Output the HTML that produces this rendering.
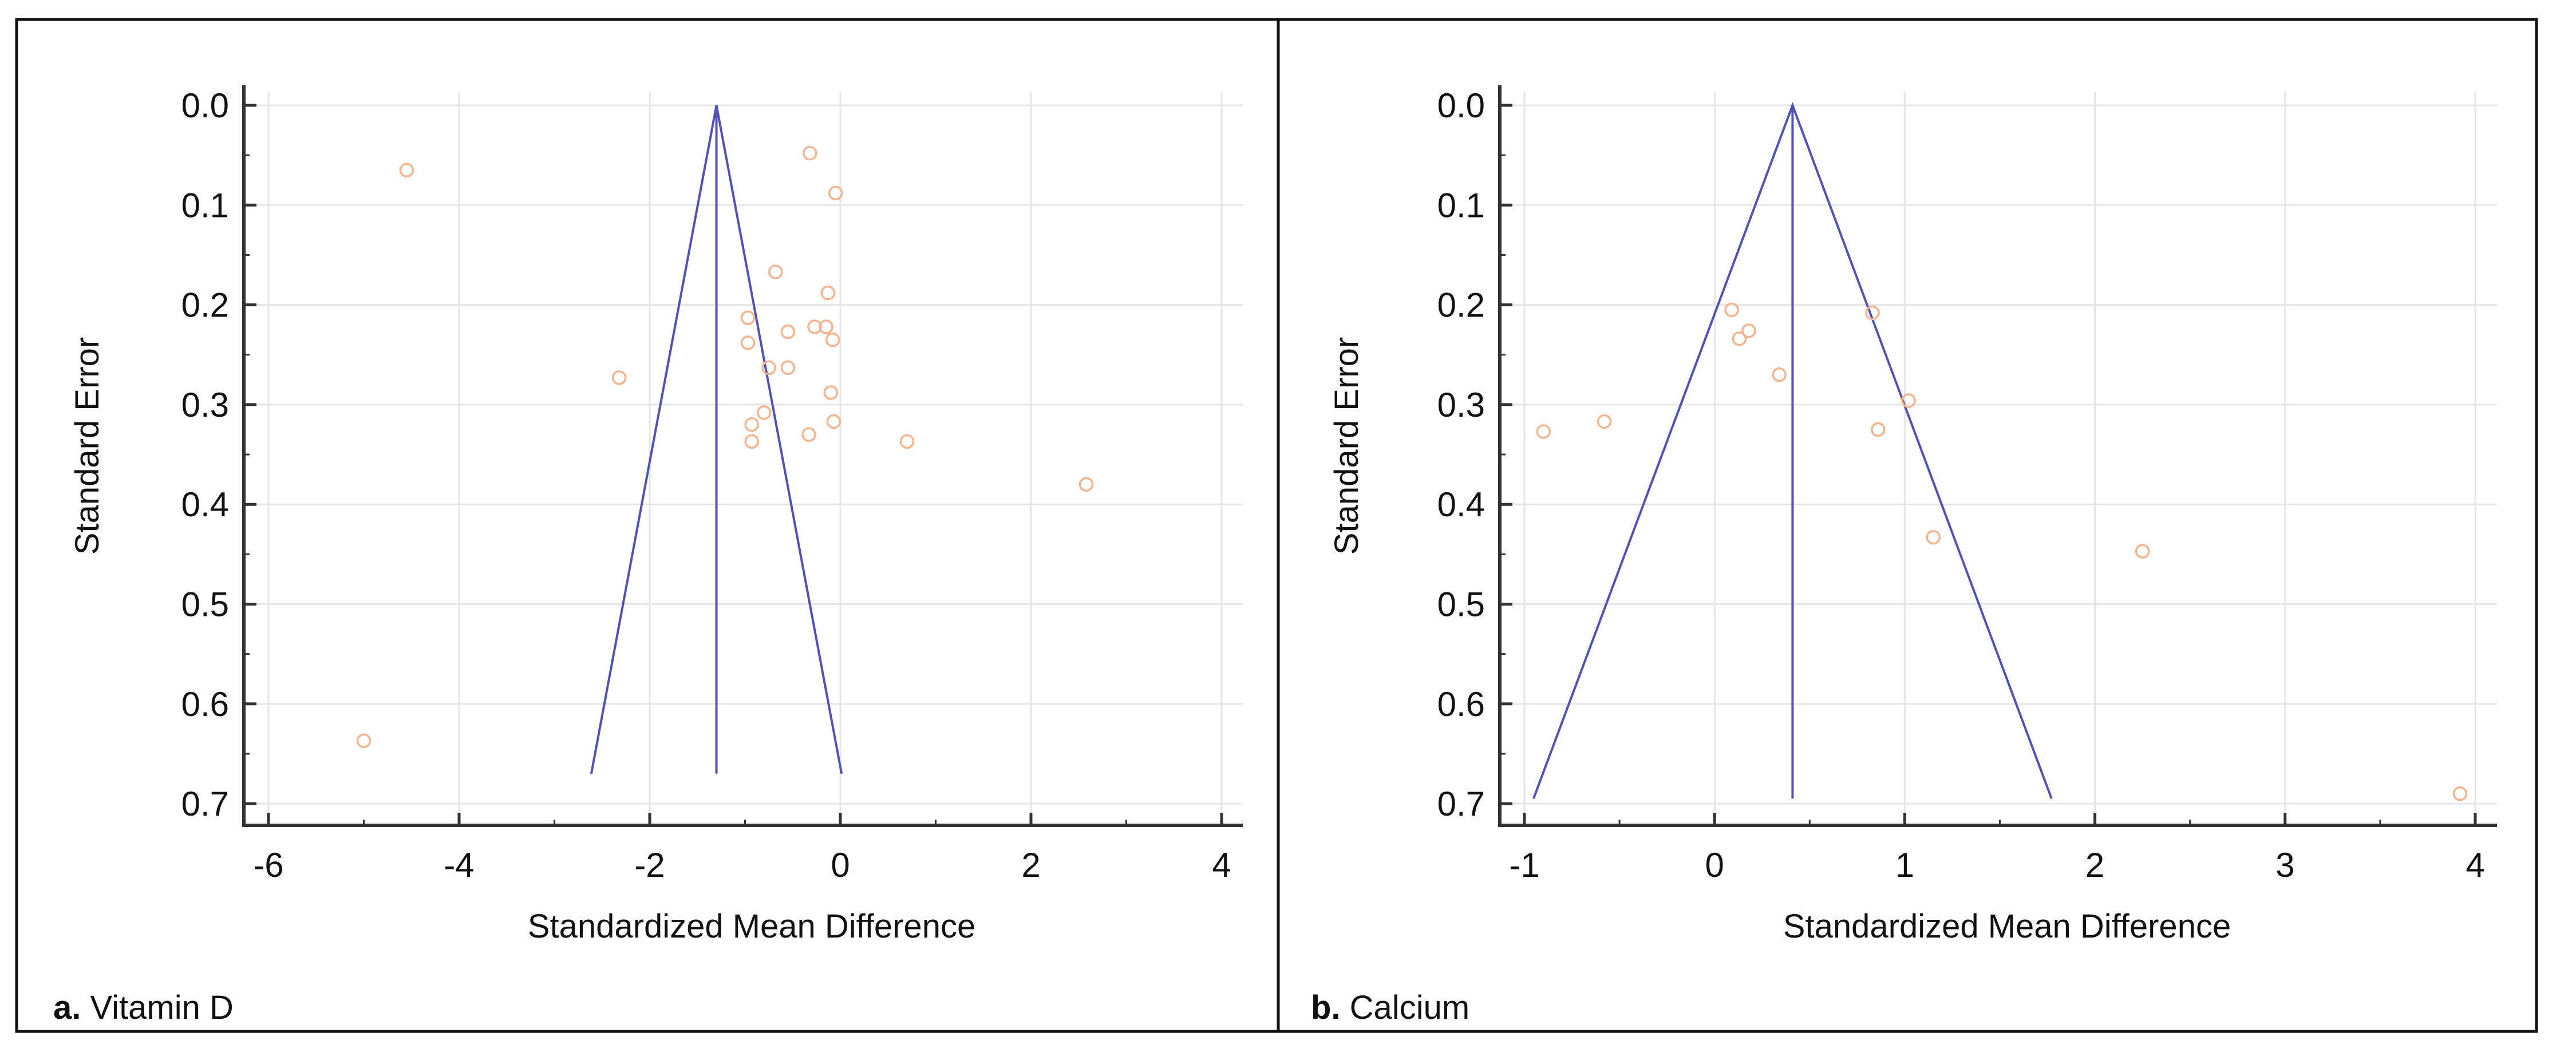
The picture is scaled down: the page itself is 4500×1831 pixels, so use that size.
<!DOCTYPE html>
<html><head><meta charset="utf-8"><style>
html,body{margin:0;padding:0;background:#fff;}
svg{display:block;font-family:"Liberation Sans",sans-serif;}
</style></head><body>
<svg id="s" width="4500" height="1831" viewBox="0 0 4500 1831">
<rect x="29" y="34" width="4402" height="1768" fill="none" stroke="#111" stroke-width="5"/>
<line x1="2233" y1="34" x2="2233" y2="1802" stroke="#111" stroke-width="5"/>
</svg>
<script>
const yTicks=[0,0.1,0.2,0.3,0.4,0.5,0.6,0.7];
const aTicks=[-6,-4,-2,0,2,4];
const aX=[-4.55,-0.32,-0.05,-0.68,-0.13,-0.97,-0.97,-0.55,-0.27,-0.15,-0.08,-2.32,-0.75,-0.55,-0.1,-0.8,-0.93,-0.93,-0.33,-0.07,0.7,2.58,-5.0];
const aSE=[0.065,0.048,0.088,0.167,0.188,0.213,0.238,0.227,0.222,0.222,0.235,0.273,0.263,0.263,0.288,0.308,0.32,0.337,0.33,0.317,0.337,0.38,0.637];
const aPooled=-1.3, aMaxSE=0.67;
const bTicks=[-1,0,1,2,3,4];
const bX=[-0.9,-0.58,0.09,0.13,0.18,0.34,0.83,1.02,0.86,1.15,2.25,3.92];
const bSE=[0.327,0.317,0.205,0.234,0.226,0.27,0.208,0.296,0.325,0.433,0.447,0.69];
const bPooled=0.41, bMaxSE=0.695;

const svg=document.getElementById('s');
const NS='http://www.w3.org/2000/svg';
function mk(tag,attrs,text){const e=document.createElementNS(NS,tag);for(const k in attrs)e.setAttribute(k,attrs[k]);if(text!==undefined)e.textContent=text;svg.appendChild(e);return e;}

function panel(p){
  const sx=v=>p.x0+(v-p.t0)*p.ppu;
  const sy=v=>184+v*1743;
  p.ticks.forEach(t=>{const l=mk('line',{x1:sx(t),y1:160,x2:sx(t),y2:1442,stroke:'#e6e6e6','stroke-width':3});
    
    });
  yTicks.forEach(t=>{const l=mk('line',{x1:p.ax,y1:sy(t),x2:p.right,y2:sy(t),stroke:'#e6e6e6','stroke-width':3});
    
    });
  const ya=mk('line',{x1:p.ax,y1:149,x2:p.ax,y2:1444,stroke:'#333','stroke-width':6});
  
  
  const xa=mk('line',{x1:p.ax-3,y1:1442,x2:p.right,y2:1442,stroke:'#333','stroke-width':6});
  
  
  yTicks.forEach((t,i)=>{
    const tk=mk('line',{x1:p.ax,y1:sy(t),x2:p.ax+22,y2:sy(t),stroke:'#333','stroke-width':5});
    
    
    if(i<yTicks.length-1){
      const m=mk('line',{x1:p.ax,y1:sy(t+0.05),x2:p.ax+10,y2:sy(t+0.05),stroke:'#333','stroke-width':3});
      
      
    }
    const tx=mk('text',{x:p.ax-26,y:sy(t)+21,'font-size':60,'text-anchor':'end',fill:'#111'},t.toFixed(1));
    
    
  });
  p.ticks.forEach((t,i)=>{
    const tk=mk('line',{x1:sx(t),y1:1442,x2:sx(t),y2:1420,stroke:'#333','stroke-width':5});
    
    
    if(i<p.ticks.length-1){const mid=(t+p.ticks[i+1])/2;
      const m=mk('line',{x1:sx(mid),y1:1442,x2:sx(mid),y2:1432,stroke:'#333','stroke-width':3});
      
      }
    const tx=mk('text',{x:sx(t),y:1532,'font-size':60,'text-anchor':'middle',fill:'#111'},String(t));
    
    
  });
  const yt=mk('text',{x:p.ytx,y:779,'font-size':58,'text-anchor':'middle',fill:'#111',transform:`rotate(-90 ${p.ytx} 779)`},'Standard Error');
  
  
  const xt=mk('text',{x:p.xtx,y:1638,'font-size':58,'text-anchor':'middle',fill:'#111'},'Standardized Mean Difference');
  
  
  const half=1.96*p.maxSE;
  const f=mk('polyline',{points:`${sx(p.pooled-half)},${sy(p.maxSE)} ${sx(p.pooled)},${sy(0)} ${sx(p.pooled+half)},${sy(p.maxSE)}`,fill:'none',stroke:'#5252b4','stroke-width':4});
  
  
  const c=mk('line',{x1:sx(p.pooled),y1:sy(0),x2:sx(p.pooled),y2:sy(p.maxSE),stroke:'#5252b4','stroke-width':4});
  
  
  p.xs.forEach((v,i)=>{
    const pt=mk('circle',{cx:sx(v),cy:sy(p.ses[i]),r:11,fill:'none',stroke:'#f4b48f','stroke-width':3.5});
    
    
  });
  const lb=mk('text',{x:p.lbx,y:1780,'font-size':58,fill:'#111'});
  
  
  const b=document.createElementNS(NS,'tspan');b.setAttribute('font-weight','bold');b.textContent=p.letter;lb.appendChild(b);
  const r=document.createElementNS(NS,'tspan');r.textContent=' '+p.name;lb.appendChild(r);
}
panel({x0:469,t0:-6,ppu:166.5,ax:426,right:2171,ticks:aTicks,xs:aX,ses:aSE,pooled:aPooled,maxSE:aMaxSE,ytx:172,xtx:1313,lbx:93,letter:'a.',name:'Vitamin D'});
panel({x0:2663,t0:-1,ppu:332.2,ax:2620,right:4362,ticks:bTicks,xs:bX,ses:bSE,pooled:bPooled,maxSE:bMaxSE,ytx:2372,xtx:3506,lbx:2290,letter:'b.',name:'Calcium'});
</script>
</body></html>
